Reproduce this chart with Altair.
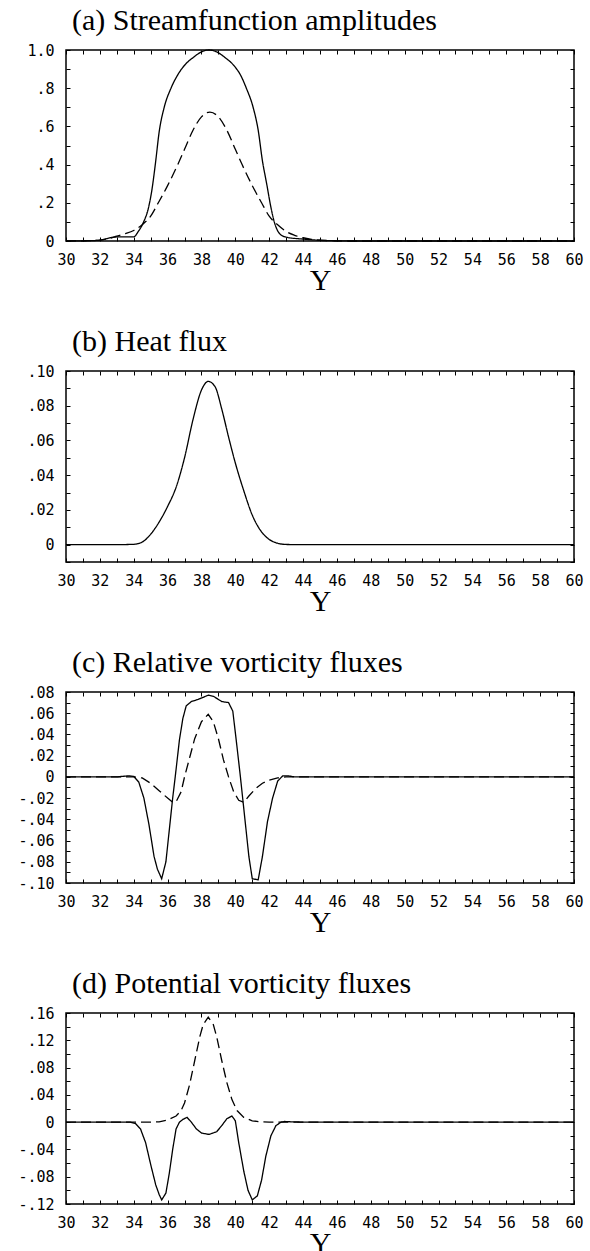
import altair as alt
import pandas as pd

# ---------------- data ----------------
# (a) Streamfunction amplitudes
A_X_SOLID = [30, 31, 32, 32.6, 33.2, 34.0, 34.27, 34.57, 34.86, 35.06, 35.3, 35.5, 35.8, 36.2, 36.6, 37.0,
             37.5, 38.0, 38.43, 38.9, 39.4, 39.9, 40.3, 40.65, 41.05, 41.35, 41.6, 41.85, 42.05, 42.3, 42.6,
             43.0, 44, 45, 46, 47, 60]
A_V_SOLID = [0, 0.001, 0.004, 0.017, 0.022, 0.022, 0.05, 0.097, 0.17, 0.26, 0.42, 0.57, 0.70, 0.8, 0.87, 0.92,
             0.96, 0.99, 1.0, 0.99, 0.96, 0.92, 0.87, 0.8, 0.7, 0.58, 0.42, 0.3, 0.2, 0.1, 0.04,
             0.02, 0.01, 0.004, 0.001, 0, 0]
A_X_DASH = [30, 31, 32, 32.5, 33.0, 33.5, 34.0, 34.5, 35.0, 35.45, 36.0, 36.6, 37.0, 37.5, 38.0, 38.5, 39.0,
            39.5, 40.0, 40.4, 41.0, 41.55, 42.0, 42.5, 43.0, 43.5, 44.0, 44.5, 45, 46, 47, 60]
A_V_DASH = [0, 0.001, 0.005, 0.012, 0.025, 0.038, 0.055, 0.085, 0.13, 0.2, 0.29, 0.4, 0.48, 0.58, 0.65, 0.675, 0.65,
            0.58, 0.48, 0.4, 0.29, 0.2, 0.13, 0.085, 0.05, 0.03, 0.017, 0.009, 0.004, 0.001, 0, 0]

# (b) Heat flux
B_X_SOLID = [30, 33, 34, 34.5, 35, 35.5, 36, 36.5, 37, 37.5, 38, 38.4, 38.8, 39.2, 39.6, 40, 40.5, 41,
             41.5, 42, 42.5, 43, 44, 60]
B_V_SOLID = [0, 0, 0.0002, 0.0015, 0.006, 0.013, 0.022, 0.033, 0.050, 0.072, 0.089, 0.094, 0.091, 0.078,
             0.062, 0.047, 0.031, 0.017, 0.008, 0.003, 0.0008, 0.0001, 0, 0]

# (c) Relative vorticity fluxes
C_X_SOLID = [30, 33.0, 33.7, 34.0, 34.3, 34.6, 34.9, 35.2, 35.4, 35.65, 35.9, 36.1, 36.3, 36.45, 36.7, 36.9,
             37.1, 37.4, 37.8, 38.1, 38.4, 38.7, 39.0, 39.2, 39.6, 39.85, 40.05, 40.3, 40.6, 40.8, 41.0, 41.35,
             41.6, 41.9, 42.2, 42.5, 42.8, 43.1, 43.5, 60]
C_V_SOLID = [0, 0, 0.001, 0.0005, -0.005, -0.02, -0.045, -0.075, -0.087, -0.096, -0.08, -0.05, -0.02, 0.0,
             0.035, 0.055, 0.067, 0.071, 0.073, 0.075, 0.077, 0.076, 0.073, 0.071, 0.070, 0.062, 0.035, 0.0,
             -0.045, -0.075, -0.096, -0.097, -0.075, -0.042, -0.02, -0.004, 0.001, 0.001, 0, 0]
C_X_DASH = [30, 34.0, 34.5, 35.0, 35.5, 36.0, 36.3, 36.5, 36.8, 37.0, 37.3, 37.6, 38.0, 38.4, 38.7, 39.0,
            39.3, 39.6, 39.9, 40.2, 40.5, 40.8, 41.2, 41.6, 42.0, 42.5, 43.0, 60]
C_V_DASH = [0, 0, -0.001, -0.006, -0.013, -0.020, -0.024, -0.0235, -0.014, 0.0, 0.018, 0.036, 0.052, 0.059,
            0.052, 0.036, 0.016, 0.0, -0.014, -0.022, -0.024, -0.018, -0.011, -0.006, -0.003, -0.001, 0, 0]

# (d) Potential vorticity fluxes
D_X_SOLID = [30, 33.8, 34.1, 34.4, 34.7, 35.0, 35.3, 35.5, 35.65, 35.9, 36.1, 36.3, 36.5, 36.7, 36.9, 37.15,
             37.4, 37.7, 38.0, 38.45, 38.9, 39.2, 39.5, 39.8, 40.0, 40.2, 40.5, 40.75, 41.0, 41.3, 41.55,
             41.8, 42.1, 42.4, 42.7, 42.9, 43.3, 44, 60]
D_V_SOLID = [0, 0, -0.002, -0.01, -0.03, -0.062, -0.092, -0.106, -0.114, -0.104, -0.075, -0.04, -0.01, 0.0,
             0.004, 0.007, 0.0, -0.01, -0.016, -0.018, -0.014, -0.005, 0.005, 0.009, 0.002, -0.03, -0.072,
             -0.1, -0.114, -0.108, -0.085, -0.05, -0.02, -0.005, 0.0, 0.001, 0.0005, 0, 0]
D_X_DASH = [30, 35, 35.5, 36.0, 36.5, 36.8, 37.0, 37.3, 37.6, 37.9, 38.1, 38.4, 38.7, 38.9, 39.2, 39.5,
            39.8, 40.1, 40.5, 41.0, 41.5, 42, 60]
D_V_DASH = [0, 0, 0.0005, 0.003, 0.009, 0.017, 0.028, 0.055, 0.09, 0.125, 0.143, 0.154, 0.143, 0.125, 0.09,
            0.058, 0.033, 0.017, 0.007, 0.002, 0.0005, 0, 0]

# ---------------- axes: ticks and labels ----------------
X_TICKS = list(range(30, 61))
X_LABEL_VALUES = list(range(30, 61, 2))
X_LABEL_TEXT = [str(v) for v in X_LABEL_VALUES]

A_YTICKS = [0, 0.1, 0.2, 0.3, 0.4, 0.5, 0.6, 0.7, 0.8, 0.9, 1.0]
A_YLAB_V = [0, 0.2, 0.4, 0.6, 0.8, 1.0]
A_YLAB_T = ["0", ".2", ".4", ".6", ".8", "1.0"]

B_YTICKS = [-0.01, 0, 0.01, 0.02, 0.03, 0.04, 0.05, 0.06, 0.07, 0.08, 0.09, 0.10]
B_YLAB_V = [0, 0.02, 0.04, 0.06, 0.08, 0.10]
B_YLAB_T = ["0", ".02", ".04", ".06", ".08", ".10"]

C_YTICKS = [-0.10, -0.09, -0.08, -0.07, -0.06, -0.05, -0.04, -0.03, -0.02, -0.01, 0, 0.01, 0.02, 0.03,
            0.04, 0.05, 0.06, 0.07, 0.08]
C_YLAB_V = [-0.10, -0.08, -0.06, -0.04, -0.02, 0, 0.02, 0.04, 0.06, 0.08]
C_YLAB_T = ["-.10", "-.08", "-.06", "-.04", "-.02", "0", ".02", ".04", ".06", ".08"]

D_YTICKS = [-0.12, -0.10, -0.08, -0.06, -0.04, -0.02, 0, 0.02, 0.04, 0.06, 0.08, 0.10, 0.12, 0.14, 0.16]
D_YLAB_V = [-0.12, -0.08, -0.04, 0, 0.04, 0.08, 0.12, 0.16]
D_YLAB_T = ["-.12", "-.08", "-.04", "0", ".04", ".08", ".12", ".16"]

TITLES = ["(a) Streamfunction amplitudes", "(b) Heat flux",
          "(c) Relative vorticity fluxes", "(d) Potential vorticity fluxes"]

LABEL_FONT = "DejaVu Sans Mono"
SERIF = "Liberation Serif"
W, H = 508, 191


def label_expr(vals, texts):
    expr = "''"
    for v, t in reversed(list(zip(vals, texts))):
        expr = f"abs(datum.value - ({v})) < 1e-6 ? '{t}' : {expr}"
    return expr


def panel(title, series, ydom, yticks, ylab_v, ylab_t, interp):
    rows = []
    for name, xs, vs in series:
        for x, v in zip(xs, vs):
            rows.append({"Y": x, "v": v, "s": name})
    df = pd.DataFrame(rows)
    xscale = alt.Scale(domain=[30, 60], nice=False, zero=False)
    yscale = alt.Scale(domain=ydom, nice=False, zero=False)
    base = alt.Chart(df)
    lines = base.mark_line(color="black", strokeWidth=1.3, interpolate=interp).encode(
        x=alt.X("Y:Q", scale=xscale,
                axis=alt.Axis(orient="bottom", values=X_TICKS,
                              labelExpr=label_expr(X_LABEL_VALUES, X_LABEL_TEXT),
                              title="Y", labelPadding=11, titlePadding=-2)),
        y=alt.Y("v:Q", scale=yscale,
                axis=alt.Axis(orient="left", values=yticks,
                              labelExpr=label_expr(ylab_v, ylab_t),
                              title=None, labelPadding=12)),
        strokeDash=alt.StrokeDash("s:N", scale=alt.Scale(domain=["solid", "dashed"],
                                                          range=[[1, 0], [10, 5]]), legend=None),
    )
    ghost = base.mark_line(opacity=0).encode(
        x=alt.X("Y:Q", scale=xscale,
                axis=alt.Axis(orient="top", values=X_TICKS, labels=False, title=None)),
        y=alt.Y("v:Q", scale=yscale,
                axis=alt.Axis(orient="right", values=yticks, labels=False, title=None)),
    )
    return alt.layer(lines, ghost).resolve_axis(x="independent", y="independent").properties(
        width=W, height=H,
        title=alt.TitleParams(title, anchor="start", frame="group", dx=6, offset=-17,
                              baseline="alphabetic", font=SERIF, fontSize=30,
                              fontWeight="normal", color="black"),
    )


pa = panel(TITLES[0], [("solid", A_X_SOLID, A_V_SOLID), ("dashed", A_X_DASH, A_V_DASH)],
           [0, 1.0], A_YTICKS, A_YLAB_V, A_YLAB_T, "monotone")
pb = panel(TITLES[1], [("solid", B_X_SOLID, B_V_SOLID)],
           [-0.01, 0.10], B_YTICKS, B_YLAB_V, B_YLAB_T, "monotone")
pc = panel(TITLES[2], [("solid", C_X_SOLID, C_V_SOLID), ("dashed", C_X_DASH, C_V_DASH)],
           [-0.10, 0.08], C_YTICKS, C_YLAB_V, C_YLAB_T, "linear")
pd_ = panel(TITLES[3], [("solid", D_X_SOLID, D_V_SOLID), ("dashed", D_X_DASH, D_V_DASH)],
            [-0.12, 0.16], D_YTICKS, D_YLAB_V, D_YLAB_T, "linear")

chart = alt.vconcat(pa, pb, pc, pd_, spacing=30).properties(
    padding={"left": 17, "top": 5, "right": 5, "bottom": 0},
    background="white",
).configure_view(
    stroke="black", strokeWidth=1.5
).configure_axis(
    labelFont=LABEL_FONT, labelFontSize=15, labelColor="black",
    tickColor="black", tickSize=4, tickWidth=1, domain=False, grid=False,
    offset=-4, labelFlush=False, labelOverlap=False, minExtent=0,
    titleFont=SERIF, titleFontSize=30, titleFontWeight="normal", titleColor="black",
)

chart.save("out.html", embed_options={"renderer": "svg", "actions": False})
